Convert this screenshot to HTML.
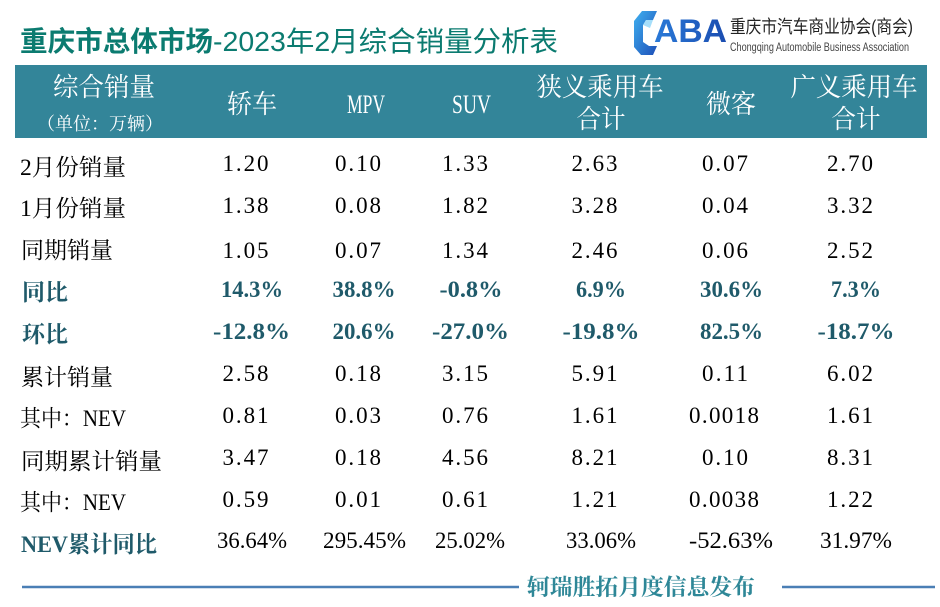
<!DOCTYPE html>
<html>
<head>
<meta charset="utf-8">
<style>
html,body{margin:0;padding:0;background:#fff;}
svg{display:block;}
.num{font-family:"Liberation Serif","Noto Serif CJK SC",serif;font-size:23px;fill:#000;}
.bn{font-family:"Liberation Serif","Noto Serif CJK SC",serif;font-size:23px;fill:#1f5a6a;font-weight:bold;}
.lab{font-family:"Liberation Serif","Noto Serif CJK SC",serif;font-size:23px;fill:#000;}
.blab{font-family:"Liberation Serif","Noto Serif CJK SC",serif;font-size:23px;fill:#1f5a6a;font-weight:bold;}
.hd{font-family:"Liberation Serif","Noto Serif CJK SC",serif;font-size:26px;fill:#fff;}
</style>
</head>
<body>
<svg width="940" height="607" viewBox="0 0 940 607" xmlns="http://www.w3.org/2000/svg">
<defs>
<linearGradient id="gc" x1="0" y1="0" x2="1" y2="1">
<stop offset="0" stop-color="#3fb0f0"/>
<stop offset="1" stop-color="#1d4fb8"/>
</linearGradient>
<linearGradient id="ga" x1="0" y1="0" x2="1" y2="0">
<stop offset="0" stop-color="#2a7ad8"/>
<stop offset="1" stop-color="#1a4cb0"/>
</linearGradient>
</defs>
<rect width="940" height="607" fill="#fff"/>

<!-- Title -->
<text x="20" y="51" font-family="Liberation Sans,Noto Sans CJK SC,sans-serif" font-size="28" font-weight="bold" fill="#0b7b70" textLength="193" lengthAdjust="spacingAndGlyphs">重庆市总体市场</text>
<text x="213" y="51" font-family="Liberation Sans,Noto Sans CJK SC,sans-serif" font-size="28" fill="#0b7b70" textLength="345" lengthAdjust="spacingAndGlyphs">-2023年2月综合销量分析表</text>

<!-- Logo -->
<polygon points="642,11 657,11 653,20 646,20 643,25 643,42 649,46 657,46 653,55 641,55 634,47 634,21" fill="url(#gc)"/>
<polygon points="643,25 646,20 653,20 650,28" fill="#7fd0f8" opacity="0.7"/>
<text x="654" y="42" font-family="Liberation Sans,sans-serif" font-size="32" font-weight="bold" fill="url(#ga)" textLength="73" lengthAdjust="spacingAndGlyphs">ABA</text>
<text x="730" y="33" font-family="Liberation Sans,Noto Sans CJK SC,sans-serif" font-size="18" fill="#222" textLength="183" lengthAdjust="spacingAndGlyphs">重庆市汽车商业协会(商会)</text>
<text x="730" y="51" font-family="Liberation Sans,sans-serif" font-size="11.5" fill="#444" textLength="179" lengthAdjust="spacingAndGlyphs">Chongqing Automobile Business Association</text>

<!-- Header band -->
<rect x="15" y="65" width="912" height="73" fill="#338599"/>
<text class="hd" x="104" y="96" text-anchor="middle" textLength="102" lengthAdjust="spacingAndGlyphs">综合销量</text>
<text class="hd" x="37" y="130" style="font-size:18px" textLength="126" lengthAdjust="spacingAndGlyphs">（单位：万辆）</text>
<text class="hd" x="252" y="113" text-anchor="middle" textLength="50" lengthAdjust="spacingAndGlyphs">轿车</text>
<text class="hd" x="366" y="113" text-anchor="middle" textLength="38" lengthAdjust="spacingAndGlyphs">MPV</text>
<text class="hd" x="471.5" y="113" text-anchor="middle" textLength="39" lengthAdjust="spacingAndGlyphs">SUV</text>
<text class="hd" x="600" y="96" text-anchor="middle" textLength="127" lengthAdjust="spacingAndGlyphs">狭义乘用车</text>
<text class="hd" x="601" y="128" text-anchor="middle" textLength="49" lengthAdjust="spacingAndGlyphs">合计</text>
<text class="hd" x="731" y="113" text-anchor="middle" textLength="50" lengthAdjust="spacingAndGlyphs">微客</text>
<text class="hd" x="854" y="96" text-anchor="middle" textLength="127" lengthAdjust="spacingAndGlyphs">广义乘用车</text>
<text class="hd" x="856" y="128" text-anchor="middle" textLength="49" lengthAdjust="spacingAndGlyphs">合计</text>

<!-- Row labels -->
<text class="lab" x="20" y="175" textLength="106" lengthAdjust="spacingAndGlyphs">2月份销量</text>
<text class="lab" x="20" y="216" textLength="106" lengthAdjust="spacingAndGlyphs">1月份销量</text>
<text class="lab" x="21" y="258" textLength="92" lengthAdjust="spacingAndGlyphs">同期销量</text>
<text class="blab" x="22" y="300" textLength="46" lengthAdjust="spacingAndGlyphs">同比</text>
<text class="blab" x="22" y="342" textLength="46" lengthAdjust="spacingAndGlyphs">环比</text>
<text class="lab" x="21" y="385" textLength="92" lengthAdjust="spacingAndGlyphs">累计销量</text>
<text class="lab" x="20" y="426" textLength="106" lengthAdjust="spacingAndGlyphs">其中：NEV</text>
<text class="lab" x="21" y="469" textLength="141" lengthAdjust="spacingAndGlyphs">同期累计销量</text>
<text class="lab" x="20" y="510" textLength="106" lengthAdjust="spacingAndGlyphs">其中：NEV</text>
<text class="blab" x="21" y="552" textLength="136" lengthAdjust="spacingAndGlyphs">NEV累计同比</text>

<g text-anchor="middle">
<!-- Row 1 -->
<text class="num" x="245.5" y="171" textLength="46" lengthAdjust="spacing">1.20</text>
<text class="num" x="358" y="171" textLength="46" lengthAdjust="spacing">0.10</text>
<text class="num" x="465" y="171" textLength="46" lengthAdjust="spacing">1.33</text>
<text class="num" x="594.5" y="171" textLength="46" lengthAdjust="spacing">2.63</text>
<text class="num" x="725" y="171" textLength="46" lengthAdjust="spacing">0.07</text>
<text class="num" x="850" y="171" textLength="46" lengthAdjust="spacing">2.70</text>
<!-- Row 2 -->
<text class="num" x="245.5" y="213" textLength="46" lengthAdjust="spacing">1.38</text>
<text class="num" x="358" y="213" textLength="46" lengthAdjust="spacing">0.08</text>
<text class="num" x="465" y="213" textLength="46" lengthAdjust="spacing">1.82</text>
<text class="num" x="594.5" y="213" textLength="46" lengthAdjust="spacing">3.28</text>
<text class="num" x="725" y="213" textLength="46" lengthAdjust="spacing">0.04</text>
<text class="num" x="850" y="213" textLength="46" lengthAdjust="spacing">3.32</text>
<!-- Row 3 -->
<text class="num" x="245.5" y="258" textLength="46" lengthAdjust="spacing">1.05</text>
<text class="num" x="358" y="258" textLength="46" lengthAdjust="spacing">0.07</text>
<text class="num" x="465" y="258" textLength="46" lengthAdjust="spacing">1.34</text>
<text class="num" x="594.5" y="258" textLength="46" lengthAdjust="spacing">2.46</text>
<text class="num" x="725" y="258" textLength="46" lengthAdjust="spacing">0.06</text>
<text class="num" x="850" y="258" textLength="46" lengthAdjust="spacing">2.52</text>
<!-- Row 4 (bold) -->
<text class="bn" x="252" y="297" textLength="62" lengthAdjust="spacingAndGlyphs">14.3%</text>
<text class="bn" x="364" y="297" textLength="63" lengthAdjust="spacingAndGlyphs">38.8%</text>
<text class="bn" x="471" y="297" textLength="63" lengthAdjust="spacingAndGlyphs">-0.8%</text>
<text class="bn" x="601" y="297" textLength="50" lengthAdjust="spacingAndGlyphs">6.9%</text>
<text class="bn" x="731.5" y="297" textLength="63" lengthAdjust="spacingAndGlyphs">30.6%</text>
<text class="bn" x="856" y="297" textLength="50" lengthAdjust="spacingAndGlyphs">7.3%</text>
<!-- Row 5 (bold) -->
<text class="bn" x="251.5" y="339" textLength="77" lengthAdjust="spacingAndGlyphs">-12.8%</text>
<text class="bn" x="364" y="339" textLength="63" lengthAdjust="spacingAndGlyphs">20.6%</text>
<text class="bn" x="470.5" y="339" textLength="77" lengthAdjust="spacingAndGlyphs">-27.0%</text>
<text class="bn" x="601" y="339" textLength="77" lengthAdjust="spacingAndGlyphs">-19.8%</text>
<text class="bn" x="731.5" y="339" textLength="63" lengthAdjust="spacingAndGlyphs">82.5%</text>
<text class="bn" x="856" y="339" textLength="77" lengthAdjust="spacingAndGlyphs">-18.7%</text>
<!-- Row 6 -->
<text class="num" x="245.5" y="381" textLength="46" lengthAdjust="spacing">2.58</text>
<text class="num" x="358" y="381" textLength="46" lengthAdjust="spacing">0.18</text>
<text class="num" x="465" y="381" textLength="46" lengthAdjust="spacing">3.15</text>
<text class="num" x="594.5" y="381" textLength="46" lengthAdjust="spacing">5.91</text>
<text class="num" x="725" y="381" textLength="46" lengthAdjust="spacing">0.11</text>
<text class="num" x="850" y="381" textLength="46" lengthAdjust="spacing">6.02</text>
<!-- Row 7 -->
<text class="num" x="245.5" y="423" textLength="46" lengthAdjust="spacing">0.81</text>
<text class="num" x="358" y="423" textLength="46" lengthAdjust="spacing">0.03</text>
<text class="num" x="465" y="423" textLength="46" lengthAdjust="spacing">0.76</text>
<text class="num" x="594.5" y="423" textLength="46" lengthAdjust="spacing">1.61</text>
<text class="num" x="724" y="423" textLength="70" lengthAdjust="spacing">0.0018</text>
<text class="num" x="850" y="423" textLength="46" lengthAdjust="spacing">1.61</text>
<!-- Row 8 -->
<text class="num" x="245.5" y="465" textLength="46" lengthAdjust="spacing">3.47</text>
<text class="num" x="358" y="465" textLength="46" lengthAdjust="spacing">0.18</text>
<text class="num" x="465" y="465" textLength="46" lengthAdjust="spacing">4.56</text>
<text class="num" x="594.5" y="465" textLength="46" lengthAdjust="spacing">8.21</text>
<text class="num" x="725" y="465" textLength="46" lengthAdjust="spacing">0.10</text>
<text class="num" x="850" y="465" textLength="46" lengthAdjust="spacing">8.31</text>
<!-- Row 9 -->
<text class="num" x="245.5" y="507" textLength="46" lengthAdjust="spacing">0.59</text>
<text class="num" x="358" y="507" textLength="46" lengthAdjust="spacing">0.01</text>
<text class="num" x="465" y="507" textLength="46" lengthAdjust="spacing">0.61</text>
<text class="num" x="594.5" y="507" textLength="46" lengthAdjust="spacing">1.21</text>
<text class="num" x="724" y="507" textLength="70" lengthAdjust="spacing">0.0038</text>
<text class="num" x="850" y="507" textLength="46" lengthAdjust="spacing">1.22</text>
<!-- Row 10 -->
<text class="num" x="252" y="548" textLength="70" lengthAdjust="spacingAndGlyphs">36.64%</text>
<text class="num" x="364.5" y="548" textLength="83" lengthAdjust="spacingAndGlyphs">295.45%</text>
<text class="num" x="470" y="548" textLength="70" lengthAdjust="spacingAndGlyphs">25.02%</text>
<text class="num" x="601" y="548" textLength="70" lengthAdjust="spacingAndGlyphs">33.06%</text>
<text class="num" x="731" y="548" textLength="84" lengthAdjust="spacingAndGlyphs">-52.63%</text>
<text class="num" x="856" y="548" textLength="72" lengthAdjust="spacingAndGlyphs">31.97%</text>
</g>

<!-- Footer -->
<line x1="22" y1="587" x2="519" y2="587" stroke="#4a7fb5" stroke-width="2.5"/>
<line x1="782" y1="587" x2="935" y2="587" stroke="#4a7fb5" stroke-width="2.5"/>
<text x="527" y="595" font-family="Liberation Serif,Noto Serif CJK SC,serif" font-size="22.5" font-weight="bold" fill="#2e8797" textLength="228" lengthAdjust="spacingAndGlyphs">轲瑞胜拓月度信息发布</text>
</svg>
</body>
</html>
